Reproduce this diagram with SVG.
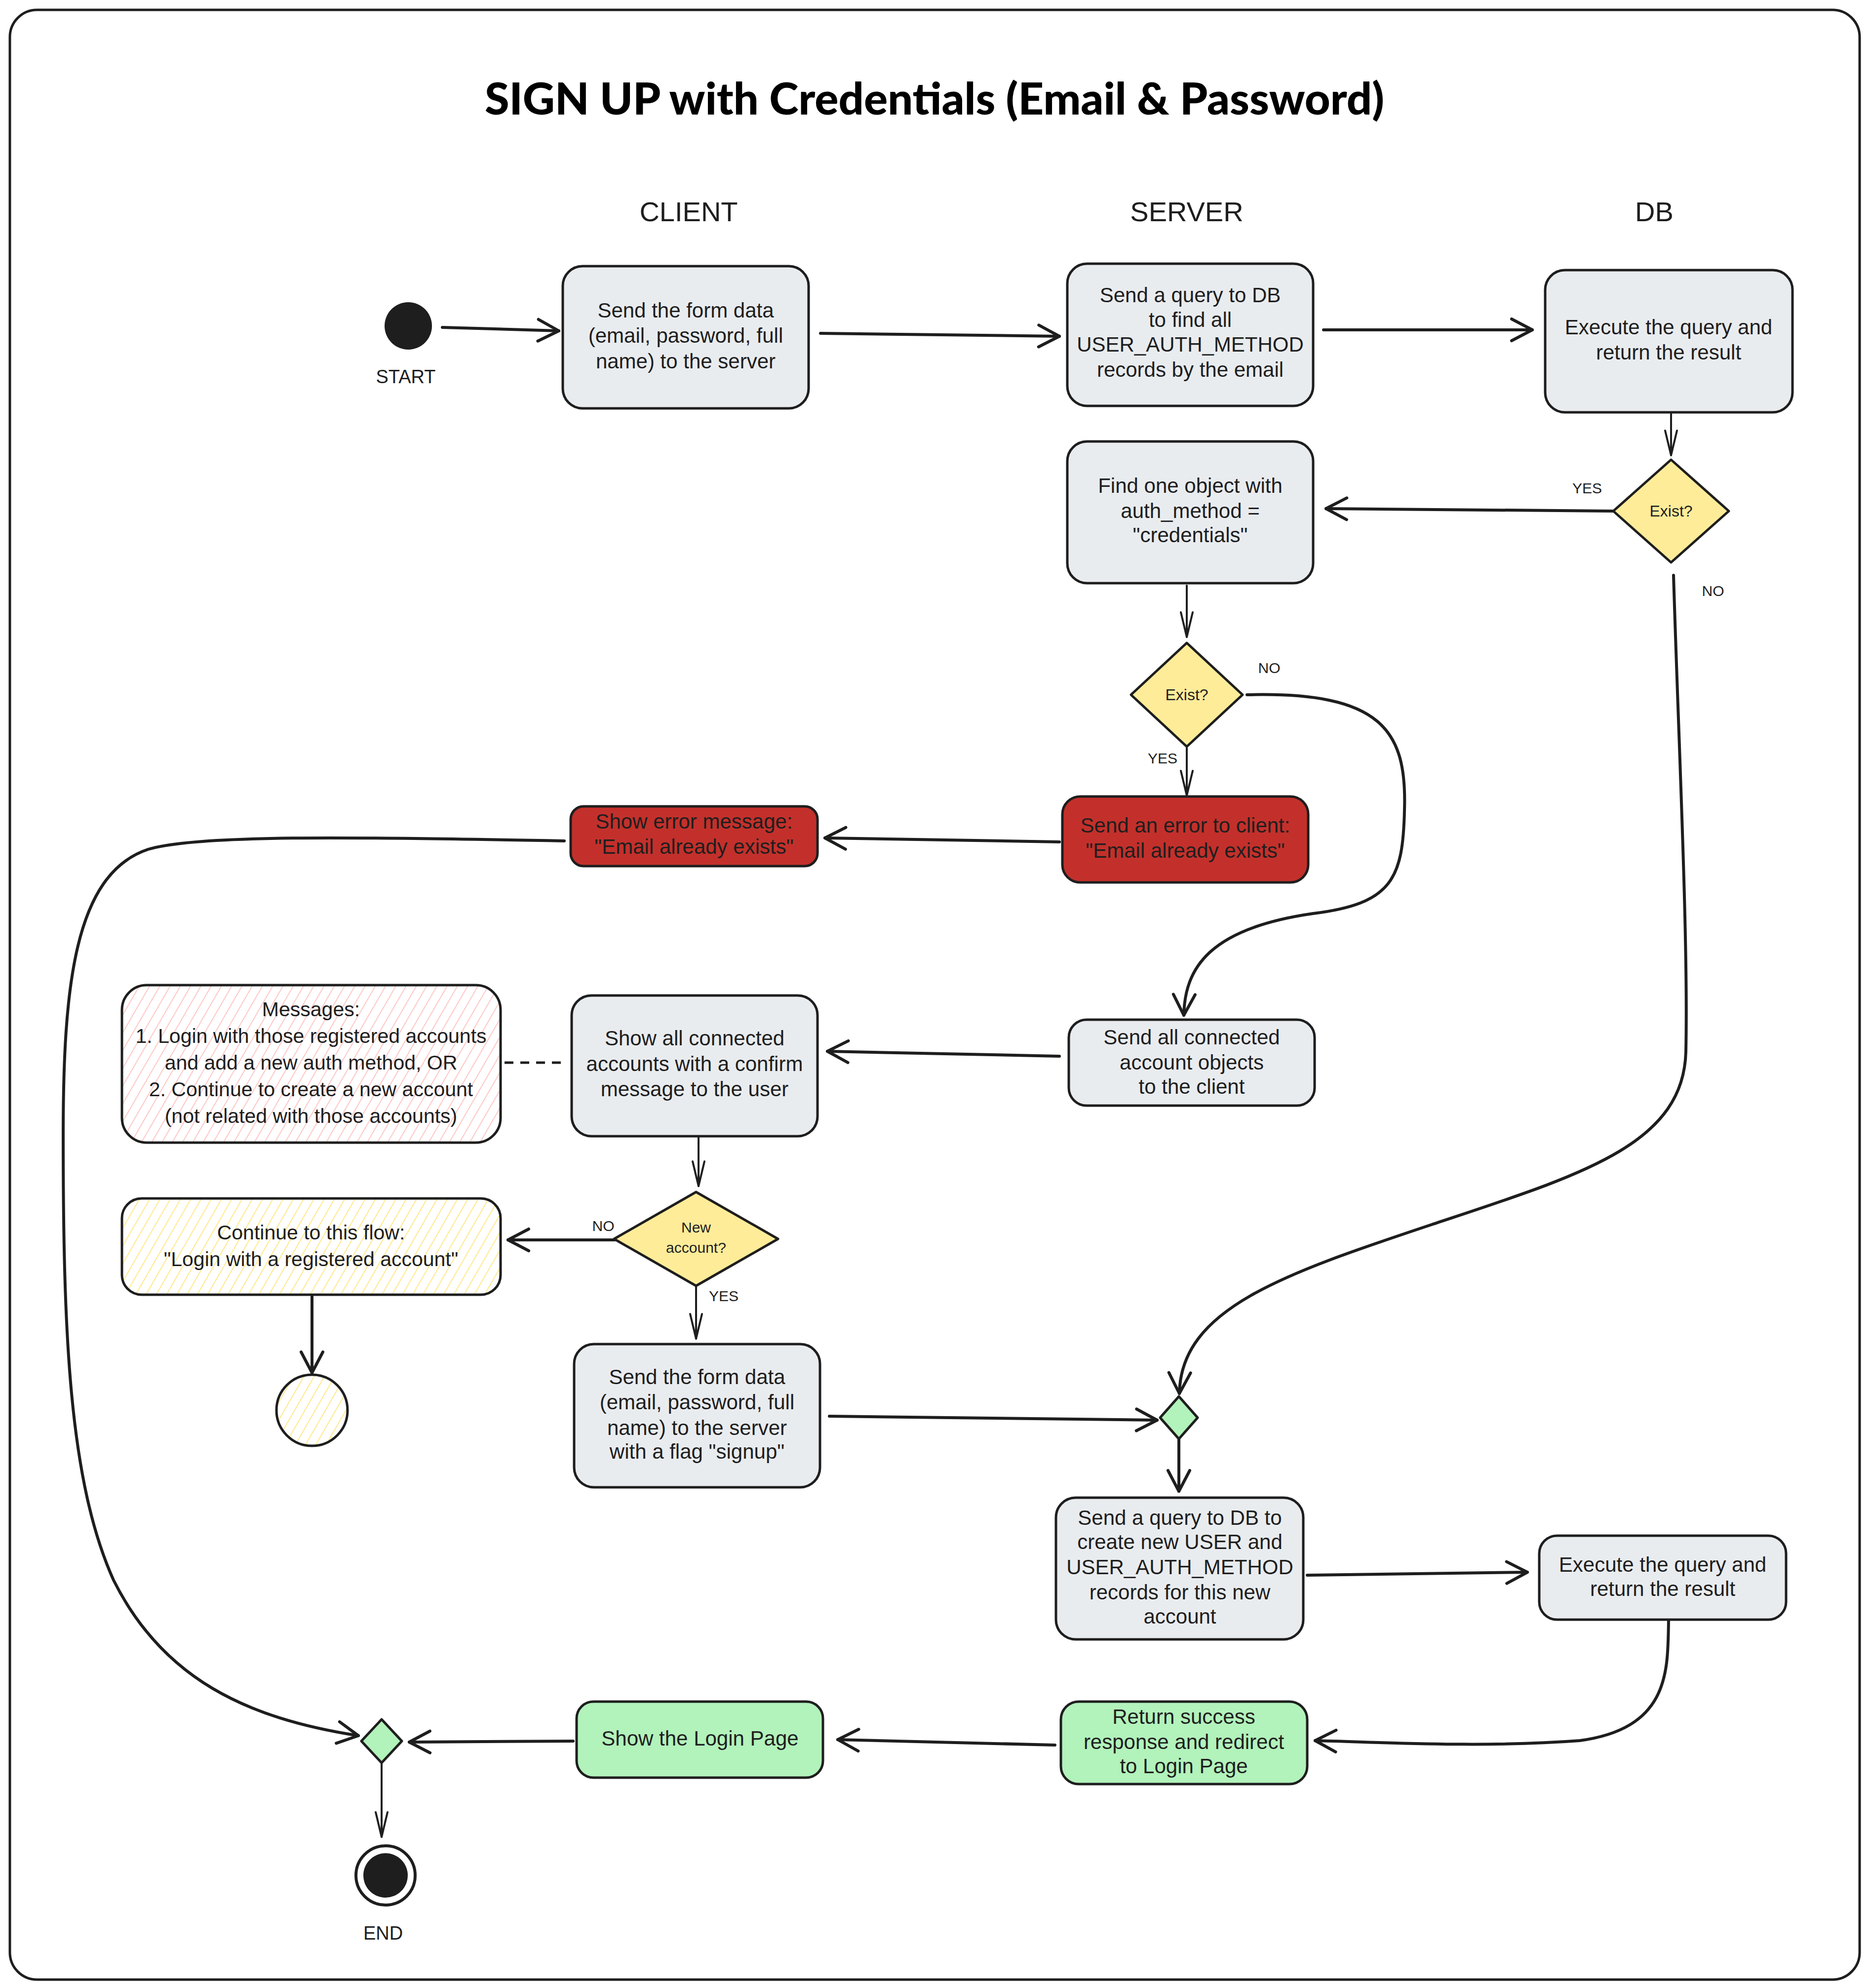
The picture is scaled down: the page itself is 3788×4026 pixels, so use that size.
<svg xmlns="http://www.w3.org/2000/svg" width="3788" height="4026" viewBox="0 0 3788 4026">
<defs>
<style>
.box{stroke:#1e1e1e;stroke-width:5;}
.grey{fill:#e9ecef;}
.red{fill:#c3302b;}
.green{fill:#b2f2bb;}
.yel{fill:#ffec99;}
.t{font-family:"Liberation Sans","DejaVu Sans",sans-serif;font-size:42px;fill:#1e1e1e;text-anchor:middle;}
.m{font-family:"Liberation Sans","DejaVu Sans",sans-serif;font-size:41px;fill:#1e1e1e;text-anchor:middle;}
.h{font-family:"Liberation Sans","DejaVu Sans",sans-serif;font-size:56px;fill:#1e1e1e;text-anchor:middle;}
.s{font-family:"Liberation Sans","DejaVu Sans",sans-serif;font-size:30px;fill:#1e1e1e;text-anchor:middle;}
.d{font-family:"Liberation Sans","DejaVu Sans",sans-serif;font-size:32px;fill:#1e1e1e;text-anchor:middle;}
.thick{fill:none;stroke:#1e1e1e;stroke-width:6;stroke-linecap:round;marker-end:url(#ah);}
.thin{fill:none;stroke:#1e1e1e;stroke-width:4;stroke-linecap:round;marker-end:url(#ahs);}
</style>
<marker id="ah" viewBox="0 0 60 60" refX="56" refY="30" markerWidth="60" markerHeight="60" markerUnits="userSpaceOnUse" orient="auto">
<path d="M14 8 L56 30 L14 52" fill="none" stroke="#1e1e1e" stroke-width="6" stroke-linecap="round" stroke-linejoin="round"/>
</marker>
<marker id="ahs" viewBox="0 0 60 60" refX="56" refY="30" markerWidth="60" markerHeight="60" markerUnits="userSpaceOnUse" orient="auto">
<path d="M6 18 L56 30 L6 42" fill="none" stroke="#1e1e1e" stroke-width="4" stroke-linecap="round" stroke-linejoin="round"/>
</marker>
<pattern id="hpink" patternUnits="userSpaceOnUse" width="18" height="18" patternTransform="rotate(30)">
<rect width="18" height="18" fill="#ffffff"/>
<line x1="0" y1="0" x2="0" y2="18" stroke="#ffc0c0" stroke-width="3.5"/>
</pattern>
<pattern id="hyel" patternUnits="userSpaceOnUse" width="18" height="18" patternTransform="rotate(30)">
<rect width="18" height="18" fill="#ffffff"/>
<line x1="0" y1="0" x2="0" y2="18" stroke="#ffe680" stroke-width="3.5"/>
</pattern>
</defs>

<rect x="20" y="20" width="3747" height="3989" rx="55" fill="#ffffff" stroke="#1e1e1e" stroke-width="5"/>

<text x="1893" y="232" font-family="Lato, 'Liberation Sans', sans-serif" font-weight="900" font-size="90" fill="#000" text-anchor="middle">SIGN UP with Credentials (Email &amp; Password)</text>

<text class="h" x="1395" y="448">CLIENT</text>
<text class="h" x="2404" y="448">SERVER</text>
<text class="h" x="3351" y="448">DB</text>

<g id="connectors">
<path class="thick" d="M896 663 L1132 670"/>
<path class="thick" d="M1662 675 L2146 681"/>
<path class="thick" d="M2681 668 L3104 668"/>
<path class="thin" d="M3385 837 L3385 922"/>
<path class="thick" d="M3267 1035 L2686 1030"/>
<path class="thick" d="M3390 1165 C3400 1500 3420 1900 3415 2130 C3410 2320 3200 2380 2900 2480 C2600 2580 2392 2650 2389 2822"/>
<path class="thin" d="M2404 1186 L2404 1290"/>
<path class="thin" d="M2404 1515 L2404 1611"/>
<path class="thick" d="M2526 1407 C2800 1400 2850 1480 2845 1640 C2842 1780 2820 1830 2660 1850 C2450 1880 2400 1960 2398 2056"/>
<path class="thick" d="M2146 1705 L1671 1697"/>
<path class="thick" d="M1143 1703 C700 1695 400 1690 300 1720 C150 1770 128 2000 128 2300 C128 2700 140 3000 230 3200 C330 3400 500 3480 726 3515"/>
<path class="thick" d="M2146 2139 L1676 2129"/>
<path d="M1022 2152 L1150 2152" fill="none" stroke="#1e1e1e" stroke-width="5" stroke-dasharray="18 14"/>
<path class="thin" d="M1415 2304 L1415 2402"/>
<path class="thick" d="M1245 2511 L1029 2511"/>
<path class="thick" d="M632 2625 L632 2780"/>
<path class="thin" d="M1410 2604 L1410 2711"/>
<path class="thick" d="M1680 2868 L2344 2876"/>
<path class="thick" d="M2388 2915 L2388 3020"/>
<path class="thick" d="M2648 3190 L3094 3184"/>
<path class="thick" d="M3380 3282 C3378 3380 3385 3500 3200 3525 C3000 3540 2800 3528 2664 3525"/>
<path class="thick" d="M2137 3534 L1697 3523"/>
<path class="thick" d="M1161 3526 L829 3528"/>
<path class="thin" d="M773 3570 L773 3720"/>
</g>

<g id="start">
<circle cx="827" cy="660" r="48" fill="#1e1e1e"/>
<text class="s" x="822" y="776" style="font-size:38px">START</text>
</g>

<g id="n-client-send">
<rect class="box grey" x="1140" y="539" width="498" height="288" rx="40"/>
<text class="t" x="1389" y="643">Send the form data</text>
<text class="t" x="1389" y="694">(email, password, full</text>
<text class="t" x="1389" y="746">name) to the server</text>
</g>

<g id="n-server-query">
<rect class="box grey" x="2162" y="534" width="498" height="288" rx="40"/>
<text class="t" x="2411" y="612">Send a query to DB</text>
<text class="t" x="2411" y="662">to find all</text>
<text class="t" x="2411" y="712">USER_AUTH_METHOD</text>
<text class="t" x="2411" y="763">records by the email</text>
</g>

<g id="n-db-exec1">
<rect class="box grey" x="3130" y="547" width="501" height="288" rx="40"/>
<text class="t" x="3380" y="677">Execute the query and</text>
<text class="t" x="3380" y="728">return the result</text>
</g>

<g id="n-db-exist">
<path class="box yel" d="M3385 931 L3502 1035 L3385 1139 L3268 1035 Z" stroke-linejoin="round"/>
<text class="d" x="3385" y="1046">Exist?</text>
<text class="s" x="3215" y="999">YES</text>
<text class="s" x="3470" y="1207">NO</text>
</g>

<g id="n-find-one">
<rect class="box grey" x="2162" y="894" width="498" height="287" rx="40"/>
<text class="t" x="2411" y="998">Find one object with</text>
<text class="t" x="2411" y="1049">auth_method =</text>
<text class="t" x="2411" y="1098">"credentials"</text>
</g>

<g id="n-server-exist">
<path class="box yel" d="M2404 1302 L2517 1407 L2404 1512 L2291 1407 Z" stroke-linejoin="round"/>
<text class="d" x="2404" y="1418">Exist?</text>
<text class="s" x="2571" y="1363">NO</text>
<text class="s" x="2355" y="1546">YES</text>
</g>

<g id="n-server-error">
<rect class="box red" x="2152" y="1613" width="498" height="174" rx="36"/>
<text class="t" x="2401" y="1686">Send an error to client:</text>
<text class="t" x="2401" y="1737">"Email already exists"</text>
</g>

<g id="n-client-error">
<rect class="box red" x="1156" y="1633" width="500" height="121" rx="26"/>
<text class="t" x="1406" y="1678">Show error message:</text>
<text class="t" x="1406" y="1729">"Email already exists"</text>
</g>

<g id="n-server-send-accounts">
<rect class="box grey" x="2165" y="2065" width="498" height="174" rx="36"/>
<text class="t" x="2414" y="2115">Send all connected</text>
<text class="t" x="2414" y="2166">account objects</text>
<text class="t" x="2414" y="2215">to the client</text>
</g>

<g id="n-client-show-accounts">
<rect class="box grey" x="1158" y="2016" width="498" height="285" rx="40"/>
<text class="t" x="1407" y="2117">Show all connected</text>
<text class="t" x="1407" y="2169">accounts with a confirm</text>
<text class="t" x="1407" y="2220">message to the user</text>
</g>

<g id="n-messages">
<rect class="box" x="247" y="1995" width="767" height="319" rx="50" fill="url(#hpink)"/>
<text class="m" x="630" y="2058">Messages:</text>
<text class="m" x="630" y="2112">1. Login with those registered accounts</text>
<text class="m" x="630" y="2166">and add a new auth method, OR</text>
<text class="m" x="630" y="2220">2. Continue to create a new account</text>
<text class="m" x="630" y="2274">(not related with those accounts)</text>
</g>

<g id="n-new-account">
<path class="box yel" d="M1410 2414 L1576 2509 L1410 2604 L1244 2509 Z" stroke-linejoin="round"/>
<text class="s" x="1410" y="2496">New</text>
<text class="s" x="1410" y="2537">account?</text>
<text class="s" x="1222" y="2493">NO</text>
<text class="s" x="1466" y="2635">YES</text>
</g>

<g id="n-continue-flow">
<rect class="box" x="247" y="2427" width="767" height="195" rx="40" fill="url(#hyel)"/>
<text class="m" x="630" y="2510">Continue to this flow:</text>
<text class="m" x="630" y="2564">"Login with a registered account"</text>
</g>

<g id="n-flow-end">
<circle cx="632" cy="2856" r="72" fill="url(#hyel)" stroke="#1e1e1e" stroke-width="5"/>
</g>

<g id="n-client-signup">
<rect class="box grey" x="1163" y="2722" width="498" height="290" rx="40"/>
<text class="t" x="1412" y="2803">Send the form data</text>
<text class="t" x="1412" y="2854">(email, password, full</text>
<text class="t" x="1412" y="2906">name) to the server</text>
<text class="t" x="1412" y="2954">with a flag "signup"</text>
</g>

<g id="n-merge1">
<path class="box green" d="M2388 2828 L2426 2871 L2388 2914 L2350 2871 Z" stroke-linejoin="round"/>
</g>

<g id="n-server-create">
<rect class="box grey" x="2139" y="3033" width="501" height="287" rx="40"/>
<text class="t" x="2390" y="3088">Send a query to DB to</text>
<text class="t" x="2390" y="3137">create new USER and</text>
<text class="t" x="2390" y="3188">USER_AUTH_METHOD</text>
<text class="t" x="2390" y="3239">records for this new</text>
<text class="t" x="2390" y="3288">account</text>
</g>

<g id="n-db-exec2">
<rect class="box grey" x="3118" y="3110" width="500" height="170" rx="36"/>
<text class="t" x="3368" y="3183">Execute the query and</text>
<text class="t" x="3368" y="3232">return the result</text>
</g>

<g id="n-server-success">
<rect class="box green" x="2149" y="3446" width="499" height="167" rx="36"/>
<text class="t" x="2398" y="3491">Return success</text>
<text class="t" x="2398" y="3542">response and redirect</text>
<text class="t" x="2398" y="3591">to Login Page</text>
</g>

<g id="n-client-login">
<rect class="box green" x="1168" y="3446" width="499" height="154" rx="34"/>
<text class="t" x="1418" y="3535">Show the Login Page</text>
</g>

<g id="n-merge2">
<path class="box green" d="M773 3482 L814 3526 L773 3570 L732 3526 Z" stroke-linejoin="round"/>
</g>

<g id="end">
<circle cx="781" cy="3798" r="60" fill="#ffffff" stroke="#1e1e1e" stroke-width="6"/>
<circle cx="781" cy="3798" r="45" fill="#1e1e1e"/>
<text class="s" x="776" y="3928" style="font-size:38px">END</text>
</g>
</svg>
